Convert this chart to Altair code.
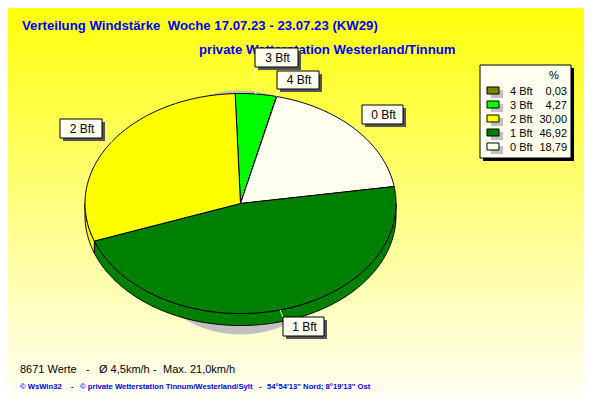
import math
import altair as alt
import pandas as pd

names = ["3 Bft", "4 Bft", "0 Bft", "1 Bft", "2 Bft"]
shares = [4.27, 0.03, 18.79, 46.92, 30.00]
colors = ["#00ff00", "#808000", "#fffff0", "#008000", "#ffff00"]
legend_order = ["4 Bft", "3 Bft", "2 Bft", "1 Bft", "0 Bft"]
legend_text = ["0,03", "4,27", "30,00", "46,92", "18,79"]

# layout, in picture pixels
CX, CY, RX, RY, DEPTH, START = 240.5, 203.5, 155.5, 110, 12, -2
W, H = 576, 391
XS = alt.Scale(domain=[8, 8 + W], nice=False, zero=False)
YS = alt.Scale(domain=[8 + H, 8], nice=False, zero=False)
BLUE = "#0000ff"
FONT = "Liberation Sans"
IVORY = "#fffff0"
NB = "\u00a0"


def pt(t, dy=0):
    r = math.radians(t)
    return CX + RX * math.sin(r), CY - RY * math.cos(r) + dy


def arc(a, b):
    n = max(2, int(abs(b - a)) + 2)
    return [a + (b - a) * i / (n - 1) for i in range(n)]


tops, sides, spans = [], [], {}
a = START
for name, share, col in zip(names, shares, colors):
    b = a + share * 3.6
    spans[name] = (a, b)
    poly = [(CX, CY)] + [pt(t) for t in arc(a, b)] + [(CX, CY)]
    for i, (x, y) in enumerate(poly):
        tops.append(dict(s=name, i=i, x=x, y=y, c=col))
    lo, hi = max(a, 90), min(b, 270)
    if hi > lo:
        ts = arc(lo, hi)
        poly = [pt(t) for t in ts] + [pt(t, DEPTH) for t in reversed(ts)]
        poly.append(poly[0])
        for i, (x, y) in enumerate(poly):
            sides.append(dict(s=name, i=i, x=x, y=y, c=col))
    a = b

shadow = [
    dict(s="shadow", i=i, x=CX + 115 * math.sin(math.radians(t)),
         y=212.5 - 121.5 * math.cos(math.radians(t)), c="#c0c0c0")
    for i, t in enumerate(range(0, 361, 3))
]


def polys(rows, stroke):
    return alt.Chart(pd.DataFrame(rows)).mark_line(
        strokeWidth=1, strokeJoin="round"
    ).encode(
        x=alt.X("x:Q", scale=XS, axis=None),
        y=alt.Y("y:Q", scale=YS, axis=None),
        detail="s:N",
        order="i:Q",
        fill=alt.Fill("c:N", scale=None, legend=None),
        stroke=alt.value(stroke),
    )


def rects(rows, fill, stroke=None):
    kw = dict(fill=fill)
    if stroke:
        kw.update(stroke=stroke, strokeWidth=1)
    return alt.Chart(pd.DataFrame(rows)).mark_rect(**kw).encode(
        x=alt.X("a:Q", scale=XS, axis=None),
        x2="b:Q",
        y=alt.Y("c:Q", scale=YS, axis=None),
        y2="d:Q",
    )


def text(rows, color="black", size=11, bold=False, align="left"):
    return alt.Chart(pd.DataFrame(rows)).mark_text(
        align=align, baseline="alphabetic", font=FONT, fontSize=size, color=color,
        fontWeight="bold" if bold else "normal",
    ).encode(
        x=alt.X("x:Q", scale=XS, axis=None),
        y=alt.Y("y:Q", scale=YS, axis=None),
        text="t:N",
    )


background = alt.Chart(pd.DataFrame([dict(a=8, b=8 + W, c=8, d=8 + H)])).mark_rect(
    fill=alt.LinearGradient(
        gradient="linear", x1=0, x2=0, y1=0, y2=1,
        stops=[
            alt.GradientStop(color="#ffff0a", offset=0),
            alt.GradientStop(color="#fffff6", offset=1),
        ],
    )
).encode(
    x=alt.X("a:Q", scale=XS, axis=None), x2="b:Q",
    y=alt.Y("c:Q", scale=YS, axis=None), y2="d:Q",
)

titles = text(
    [dict(x=22, y=30, t=f"Verteilung Windstärke {NB}Woche 17.07.23 - 23.07.23 (KW29)"),
     dict(x=199, y=54, t="private Wetterstation Westerland/Tinnum")],
    color=BLUE, size=13.2, bold=True,
)

boxes = {
    "3 Bft": (255, 298, 48, 67),
    "4 Bft": (277, 319, 71, 89),
    "0 Bft": (362, 403, 105, 124),
    "1 Bft": (283, 324, 317, 336),
    "2 Bft": (60, 102, 119, 138),
}
corner = {"3 Bft": (255, 67), "4 Bft": (277, 89), "0 Bft": (362, 124),
          "1 Bft": (283, 317), "2 Bft": (102, 138)}

leader_rows = []
for name, (x0, y0) in corner.items():
    s, e = spans[name]
    x1, y1 = pt((s + e) / 2)
    if name == "1 Bft":
        x1, y1 = 280, 310
    leader_rows += [dict(s=name, i=0, x=x0, y=y0), dict(s=name, i=1, x=x1, y=y1)]
leaders = alt.Chart(pd.DataFrame(leader_rows)).mark_line(
    color="white", strokeWidth=1
).encode(
    x=alt.X("x:Q", scale=XS, axis=None),
    y=alt.Y("y:Q", scale=YS, axis=None),
    detail="s:N", order="i:Q",
)

box_rows = [dict(a=v[0], b=v[1], c=v[2], d=v[3]) for v in boxes.values()]
box_shadow = [dict(a=r["a"] + 3, b=r["b"] + 3, c=r["c"] + 3, d=r["d"] + 3) for r in box_rows]
box_text = [dict(x=(v[0] + v[1]) / 2 + 1, y=v[3] - 5, t=k) for k, v in boxes.items()]

row_y = [91, 105, 119, 133, 147]
legend_colors = [colors[names.index(n)] for n in legend_order]
swatch_shadow = [dict(a=491, b=503, c=y - 1, d=y + 7) for y in row_y]
swatches = alt.Chart(pd.DataFrame(
    [dict(a=487, b=499, c=y - 4, d=y + 3, col=col) for y, col in zip(row_y, legend_colors)]
)).mark_rect(stroke="black", strokeWidth=1).encode(
    x=alt.X("a:Q", scale=XS, axis=None), x2="b:Q",
    y=alt.Y("c:Q", scale=YS, axis=None), y2="d:Q",
    fill=alt.Fill("col:N", scale=None, legend=None),
)
legend_names = text([dict(x=510, y=y + 4, t=n) for y, n in zip(row_y, legend_order)])
legend_vals = text([dict(x=567, y=y + 4, t=n) for y, n in zip(row_y, legend_text)], align="right")
legend_head = text([dict(x=549, y=79, t="%")])

footer = text([
    dict(x=20, y=373, t="8671 Werte"),
    dict(x=86, y=373, t="-"),
    dict(x=99, y=373, t="Ø 4,5km/h"),
    dict(x=153, y=373, t="-"),
    dict(x=163, y=373, t="Max. 21,0km/h"),
])
credit = text([
    dict(x=20, y=389, t="© WsWin32"),
    dict(x=71, y=389, t="-"),
    dict(x=80, y=389, t="© private Wetterstation Tinnum/Westerland/Sylt"),
    dict(x=259, y=389, t="-"),
    dict(x=267, y=389, t="54°54'13\" Nord; 8°19'13\" Ost"),
], color=BLUE, size=7.65, bold=True)

chart = alt.layer(
    background,
    titles,
    polys(shadow, "#c0c0c0"),
    polys(sides, "black"),
    polys(tops, "black"),
    leaders,
    rects(box_shadow, "#555555"),
    rects(box_rows, IVORY, "black"),
    text(box_text, align="center", size=12),
    rects([dict(a=483, b=574, c=68, d=161)], "black"),
    rects([dict(a=480, b=571, c=65, d=158)], IVORY, "black"),
    rects(swatch_shadow, "#c0c0c0"),
    swatches,
    legend_head, legend_names, legend_vals,
    footer, credit,
).properties(
    width=W, height=H, padding=0, autosize=alt.AutoSizeParams(type="none"),
).configure_view(stroke=None)

chart.save("out.html", embed_options={"renderer": "svg", "actions": False})
